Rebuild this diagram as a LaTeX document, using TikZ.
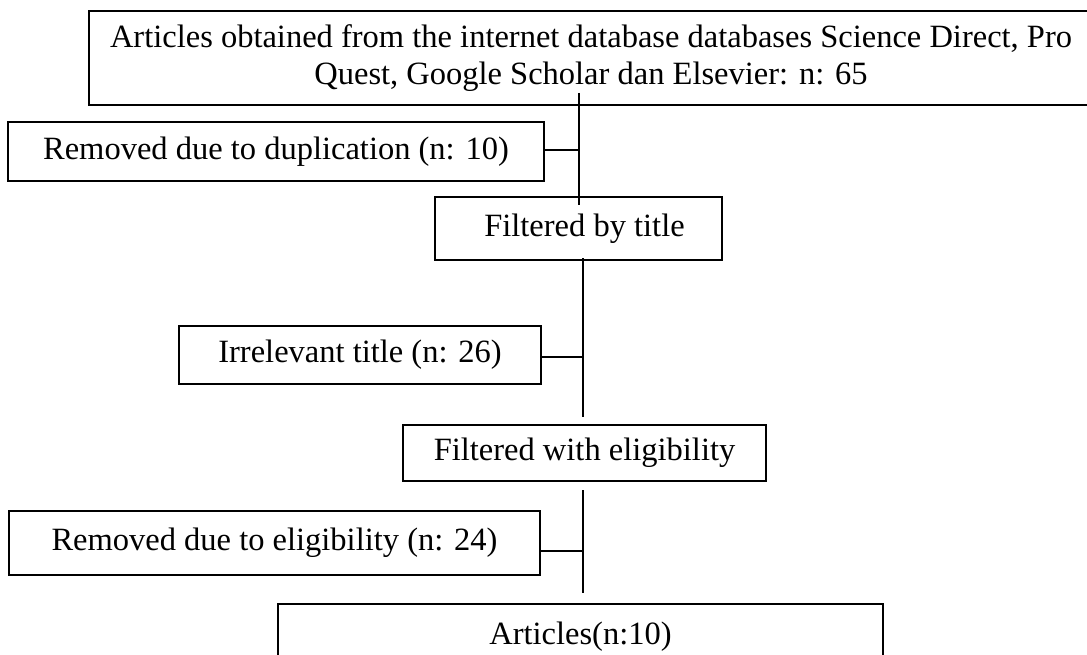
\documentclass[tikz,border=0pt]{standalone}
\usepackage{fontspec}
\setmainfont{Liberation Serif}
\begin{document}
\begin{tikzpicture}[x=1pt,y=-1pt,
  box/.style={draw=black, line width=1.3pt, inner sep=0pt, align=center,
    font=\fontsize{32.5}{37}\selectfont},
  conn/.style={line width=1.3pt},
  side/.style={line width=2.6pt}]
\useasboundingbox (0,0) rectangle (1087,655);
\begin{scope}
\clip (0,0) rectangle (1087,655);
\node[box, minimum width=1004pt, minimum height=94pt] (src) at (591,58)
  {Articles obtained from the internet database databases Science Direct, Pro\\Quest, Google Scholar dan Elsevier: n: 65};
\node[box, minimum width=536pt, minimum height=59pt] (dup) at (276,151.5) {Removed due to duplication (n: 10)};
\node[box, minimum width=287pt, minimum height=63pt] (title) at (578.5,228.5) {\hspace{12pt}Filtered by title};
\node[box, minimum width=362pt, minimum height=58pt] (irr) at (360,355) {Irrelevant title (n: 26)};
\node[box, minimum width=363pt, minimum height=56pt] (elig) at (584.5,453) {Filtered with eligibility};
\node[box, minimum width=531pt, minimum height=64pt] (rem) at (274.5,543) {Removed due to eligibility (n: 24)};
\node[box, minimum width=605pt, minimum height=66pt] (art) at (580.5,637) {Articles(n:10)};
\end{scope}
\coordinate (l1a) at (579,93);
\coordinate (l1b) at (579,205);
\coordinate (j1) at (579,150);
\coordinate (l2a) at (583,258);
\coordinate (l2b) at (583,417);
\coordinate (j2) at (583,357);
\coordinate (l3a) at (583,490);
\coordinate (l3b) at (583,593);
\coordinate (j3) at (583,551);
\draw[conn] (l1a) -- (l1b);
\draw[side] (dup.east |- j1) -- (j1);
\draw[conn] (l2a) -- (l2b);
\draw[side] (irr.east |- j2) -- (j2);
\draw[conn] (l3a) -- (l3b);
\draw[side] (rem.east |- j3) -- (j3);
\end{tikzpicture}
\end{document}
